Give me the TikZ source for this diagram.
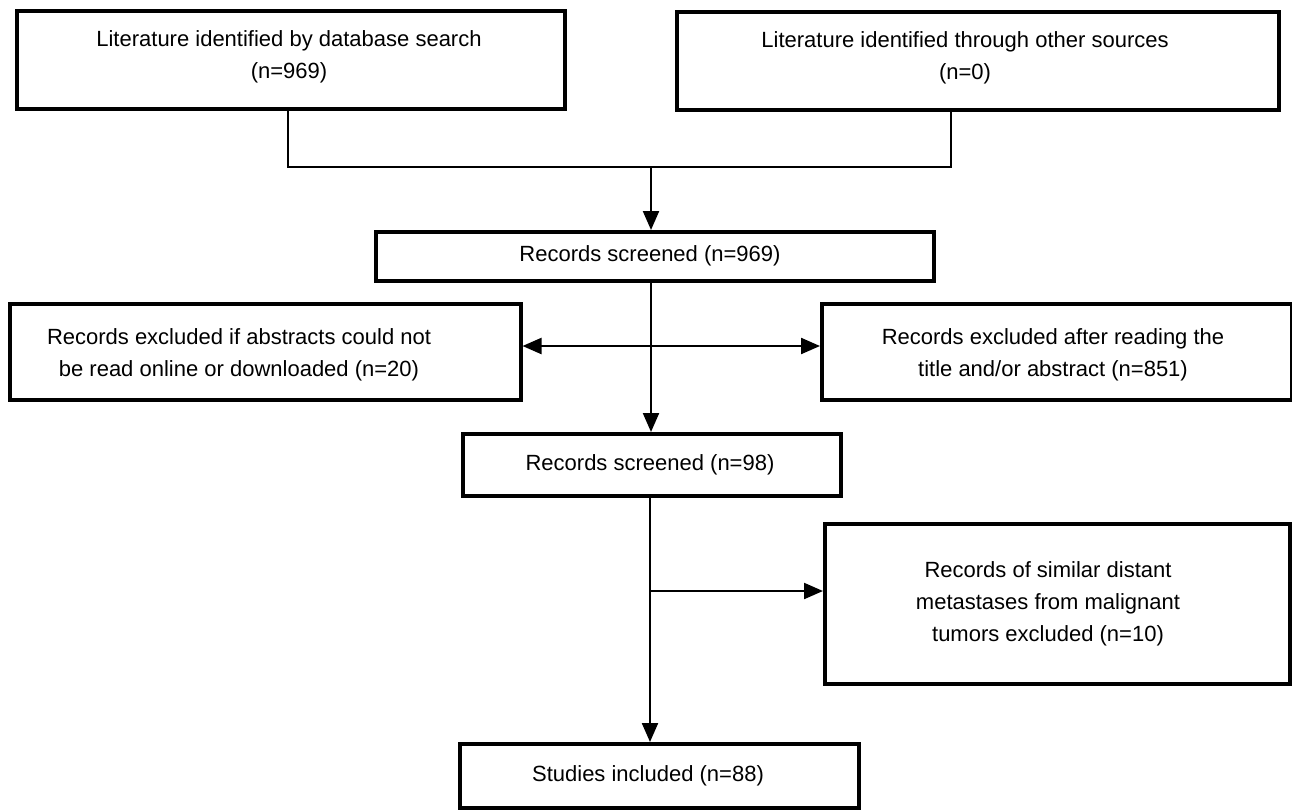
\documentclass[tikz,border=0pt]{standalone}
\usepackage{fontspec}
\setmainfont{Liberation Sans}
\usetikzlibrary{arrows.meta}
\begin{document}
\begin{tikzpicture}[x=1pt,y=-1pt,
  box/.style={draw, line width=3.5pt, inner sep=0pt, anchor=north west},
  txt/.style={align=center, font=\fontsize{22}{32}\selectfont, inner sep=0pt},
  conn/.style={line width=2.2pt},
  arr/.style={conn, -{Triangle[length=19pt,width=16pt]}},
]
\useasboundingbox (0,0) rectangle (1292,809);
\node[box, minimum width=548pt, minimum height=98pt] (lit1) at (15,9) {};
\node[box, minimum width=602pt, minimum height=98pt] (lit2) at (675,10) {};
\node[box, minimum width=558pt, minimum height=49pt] (scr1) at (374,230) {};
\node[box, minimum width=511pt, minimum height=96pt] (ex1) at (8,302) {};
\node[box, minimum width=470pt, minimum height=96pt] (ex2) at (820,302) {};
\node[box, minimum width=378pt, minimum height=62pt] (scr2) at (461,432) {};
\node[box, minimum width=465pt, minimum height=160pt] (ex3) at (823,522) {};
\node[box, minimum width=399pt, minimum height=64pt] (inc) at (458,742) {};

\node[txt] (t1) at (289,57) {Literature identified by database search\\(n=969)};
\node[txt] (t2) at (965,58) {Literature identified through other sources\\(n=0)};
\node[txt] (t3) at (650,256) {Records screened (n=969)};
\node[txt] (t4) at (239,355) {Records excluded if abstracts could not\\be read online or downloaded (n=20)};
\node[txt] (t5) at (1053,355) {Records excluded after reading the\\title and/or abstract (n=851)};
\node[txt] (t6) at (650,465) {Records screened (n=98)};
\node[txt] (t7) at (1048,604) {Records of similar distant\\metastases from malignant\\tumors excluded (n=10)};
\node[txt] (t8) at (648,776) {Studies included (n=88)};

\coordinate (j1) at (288,167);
\coordinate (j2) at (951,167);
\coordinate (m) at (651,167);
\coordinate (a) at (651,346);
\coordinate (b) at (650,591);
\draw[conn] (lit1.south -| j1) -- (j1) -- (j2) -- (lit2.south -| j2);
\draw[arr] (m) -- (m |- scr1.north);
\draw[arr] (scr1.south -| a) -- (a |- scr2.north);
\draw[arr] (a) -- (a -| ex1.east);
\draw[arr] (a) -- (a -| ex2.west);
\draw[arr] (scr2.south -| b) -- (b |- inc.north);
\draw[arr] (b) -- (b -| ex3.west);
\end{tikzpicture}
\end{document}
